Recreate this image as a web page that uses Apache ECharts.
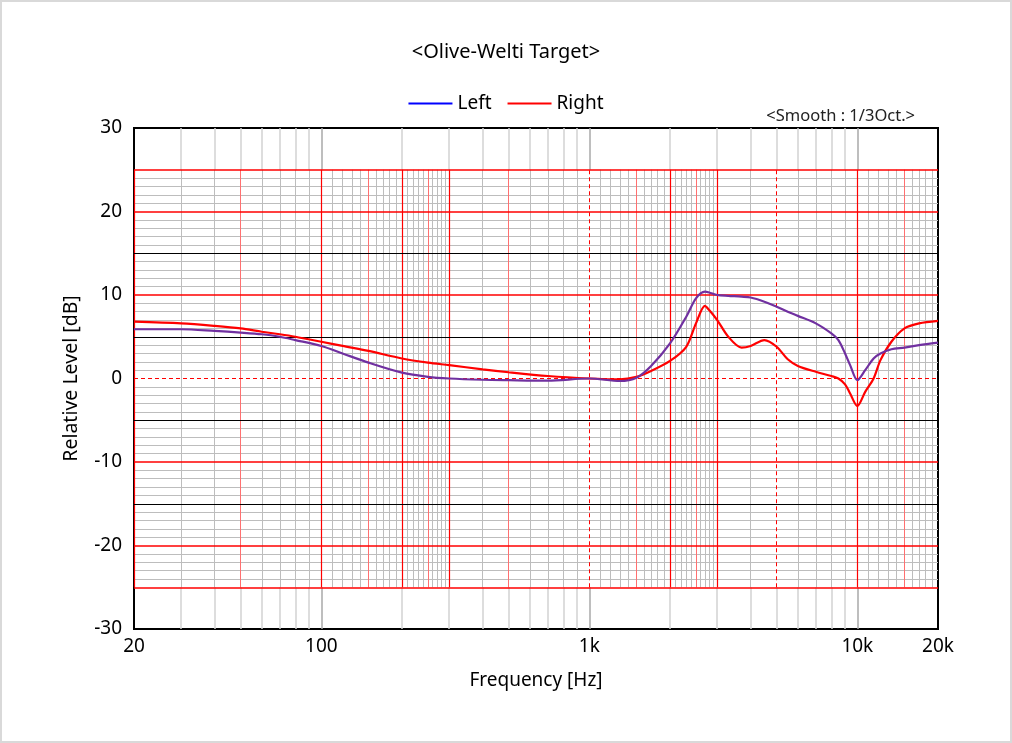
<!DOCTYPE html>
<html>
<head>
<meta charset="utf-8">
<script src="https://cdn.jsdelivr.net/npm/echarts@6/dist/echarts.min.js"></script>
<style>
  html, body { margin: 0; padding: 0; background: #fff; }
  #main { width: 1012px; height: 743px; }
</style>
</head>
<body>
<div id="main"></div>
<script>
// frequency points (Hz)
var freqs = [20, 30, 40, 50, 60, 70, 80, 100, 120, 150, 200, 250, 300, 400, 500, 700,
    1000, 1300, 1500, 1700, 2000, 2300, 2500, 2700, 2800, 3000, 3300, 3700, 4000, 4500,
    5000, 5500, 6000, 7000, 8000, 8500, 9000, 9400, 10000, 10700, 11500, 12200, 13400,
    15000, 17000, 20000];
var leftLevel = [5.9, 5.9, 5.7, 5.5, 5.3, 5.0, 4.6, 3.9, 3.0, 1.9, 0.7, 0.2, 0.0, -0.15, -0.2, -0.25,
    0.0, -0.3, 0.1, 1.5, 4.2, 7.4, 9.6, 10.4, 10.3, 10.0, 9.9, 9.8, 9.7, 9.2,
    8.6, 8.0, 7.5, 6.6, 5.4, 4.6, 3.0, 1.6, -0.2, 1.0, 2.4, 3.0, 3.5,
    3.7, 4.0, 4.3];
var rightLevel = [6.8, 6.6, 6.3, 6.0, 5.6, 5.3, 5.0, 4.4, 3.9, 3.3, 2.4, 1.9, 1.6, 1.1, 0.75, 0.3,
    0.0, -0.1, 0.2, 0.9, 2.1, 3.8, 6.6, 8.7, 8.2, 7.0, 5.0, 3.7, 3.9, 4.6,
    3.8, 2.3, 1.5, 0.8, 0.3, 0.0, -0.7, -1.8, -3.3, -1.6, 0.0, 2.2, 4.4,
    6.0, 6.6, 6.9];

// grid lines
var decadeLines = [30, 40, 50, 60, 70, 80, 90, 200, 300, 400, 500, 600, 700, 800, 900,
    2000, 3000, 4000, 5000, 6000, 7000, 8000, 9000];
var decadeDark = [100, 1000, 10000];
var fineGray = [30, 40, 60, 70, 80, 90,
    110, 120, 130, 140, 160, 170, 180, 190, 210, 220, 230, 240, 260, 270, 280, 290,
    400, 600, 700, 800, 900,
    1100, 1200, 1300, 1400, 1600, 1700, 1800, 1900, 2100, 2200, 2300, 2400, 2600, 2700, 2800, 2900,
    4000, 6000, 7000, 8000, 9000,
    11000, 12000, 13000, 14000, 16000, 17000, 18000, 19000];
var lightRed = [50, 150, 250, 500, 1500, 2500, 15000];
var redSolid = [20, 100, 200, 300, 2000, 3000, 10000];
var redDashed = [1000, 5000];
var levelGray = [];
for (var v = -24; v <= 24; v++) { if (v % 5 !== 0) levelGray.push(v); }
var levelRed = [-25, -20, -10, 10, 20, 25];
var levelBlack = [-15, -5, 5, 15];
var levelDashed = [0];

function vLines(list, y0, y1, style) {
    return list.map(function (f) {
        return [{ coord: [f, y0], lineStyle: style }, { coord: [f, y1] }];
    });
}
function hLines(list, style) {
    return list.map(function (v) {
        return [{ coord: [20, v], lineStyle: style }, { coord: [20000, v] }];
    });
}

var grayStyle = { color: '#bdbdbd', width: 1, type: 'solid' };
var bandStyle = { color: '#d2d2d2', width: 1.5, type: 'solid' };
var bandDark = { color: '#a8a8a8', width: 1.5, type: 'solid' };
var lines = []
    .concat(vLines(decadeLines, 25, 30, bandStyle))
    .concat(vLines(decadeLines, -30, -25, bandStyle))
    .concat(vLines(decadeDark, 25, 30, bandDark))
    .concat(vLines(decadeDark, -30, -25, bandDark))
    .concat(vLines(fineGray, -25, 25, grayStyle))
    .concat(hLines(levelGray, grayStyle))
    .concat(vLines(lightRed, -25, 25, { color: '#ff7070', width: 1, type: 'solid' }))
    .concat(vLines(redSolid, -25, 25, { color: '#ff0000', width: 1.2, type: 'solid' }))
    .concat(vLines(redDashed, -25, 25, { color: '#ff0000', width: 1, type: [4, 3] }))
    .concat(hLines(levelBlack, { color: '#000000', width: 1, type: 'solid' }))
    .concat(hLines(levelRed, { color: '#ff0000', width: 1.5, type: 'solid' }))
    .concat(hLines(levelDashed, { color: '#ff0000', width: 1, type: [4, 3] }));

var chartDom = document.getElementById('main');
var myChart = echarts.init(chartDom);
var option;

function pairs(ys) {
    return freqs.map(function (f, i) { return [f, ys[i]]; });
}

option = {
    backgroundColor: '#ffffff',
    animation: false,
    textStyle: { fontFamily: 'Noto Sans, Liberation Sans, sans-serif' },
    title: [{
        text: '<Olive-Welti Target>',
        left: 'center',
        top: 37,
        textStyle: { fontSize: 20, fontWeight: 'normal', color: '#000', fontFamily: 'Noto Sans' }
    }, {
        text: '<Smooth : 1/3Oct.>',
        right: 92,
        top: 103,
        textStyle: { fontSize: 16.5, fontWeight: 'normal', color: '#222', fontFamily: 'Noto Sans' }
    }],
    legend: {
        top: 89,
        left: 'center',
        icon: 'rect',
        itemWidth: 44,
        itemHeight: 2,
        itemGap: 16,
        textStyle: { fontSize: 19, color: '#000', fontFamily: 'Noto Sans' },
        data: [
            { name: 'Left', itemStyle: { color: '#0000ff' } },
            { name: 'Right', itemStyle: { color: '#ff0000' } }
        ]
    },
    graphic: [{
        type: 'rect',
        shape: { x: 1, y: 1, width: 1010, height: 741 },
        style: { fill: 'none', stroke: '#d9d9d9', lineWidth: 2 },
        silent: true
    }],
    grid: {
        left: 134,
        right: 74,
        top: 128,
        bottom: 114,
        show: true,
        borderColor: '#000',
        borderWidth: 2,
        backgroundColor: '#fff'
    },
    xAxis: {
        type: 'log',
        logBase: 10,
        min: 20,
        max: 20000,
        name: 'Frequency [Hz]',
        nameLocation: 'middle',
        nameGap: 42,
        nameTextStyle: { fontSize: 19, color: '#000', fontFamily: 'Noto Sans' },
        axisLine: { show: false },
        axisTick: { show: false },
        splitLine: { show: false },
        axisLabel: {
            fontSize: 19,
            color: '#000',
            margin: 8,
            fontFamily: 'Noto Sans',
            showMinLabel: true,
            showMaxLabel: true,
            formatter: function (val) {
                var r = Math.round(val);
                return r >= 1000 ? (r / 1000) + 'k' : String(r);
            }
        }
    },
    yAxis: {
        type: 'value',
        min: -30,
        max: 30,
        interval: 10,
        name: 'Relative Level [dB]',
        nameLocation: 'middle',
        nameGap: 53,
        nameTextStyle: { fontSize: 19.5, color: '#000', fontFamily: 'Noto Sans' },
        axisLine: { show: false },
        axisTick: { show: false },
        splitLine: { show: false },
        axisLabel: { fontSize: 19, color: '#000', margin: 12, fontFamily: 'Noto Sans' }
    },
    series: [{
        name: 'grid',
        type: 'line',
        data: [],
        z: 1,
        silent: true,
        markLine: {
            z: 1,
            silent: true,
            symbol: ['none', 'none'],
            label: { show: false },
            emphasis: { disabled: true },
            animation: false,
            data: lines
        }
    }, {
        name: 'Left',
        type: 'line',
        data: pairs(leftLevel),
        showSymbol: false,
        smooth: 0.3,
        z: 4,
        lineStyle: { color: '#7030a0', width: 2.2 },
        itemStyle: { color: '#0000ff' }
    }, {
        name: 'Right',
        type: 'line',
        data: pairs(rightLevel),
        showSymbol: false,
        smooth: 0.3,
        z: 3,
        lineStyle: { color: '#ff0000', width: 2.2 },
        itemStyle: { color: '#ff0000' }
    }]
};

option && myChart.setOption(option);
</script>
</body>
</html>
